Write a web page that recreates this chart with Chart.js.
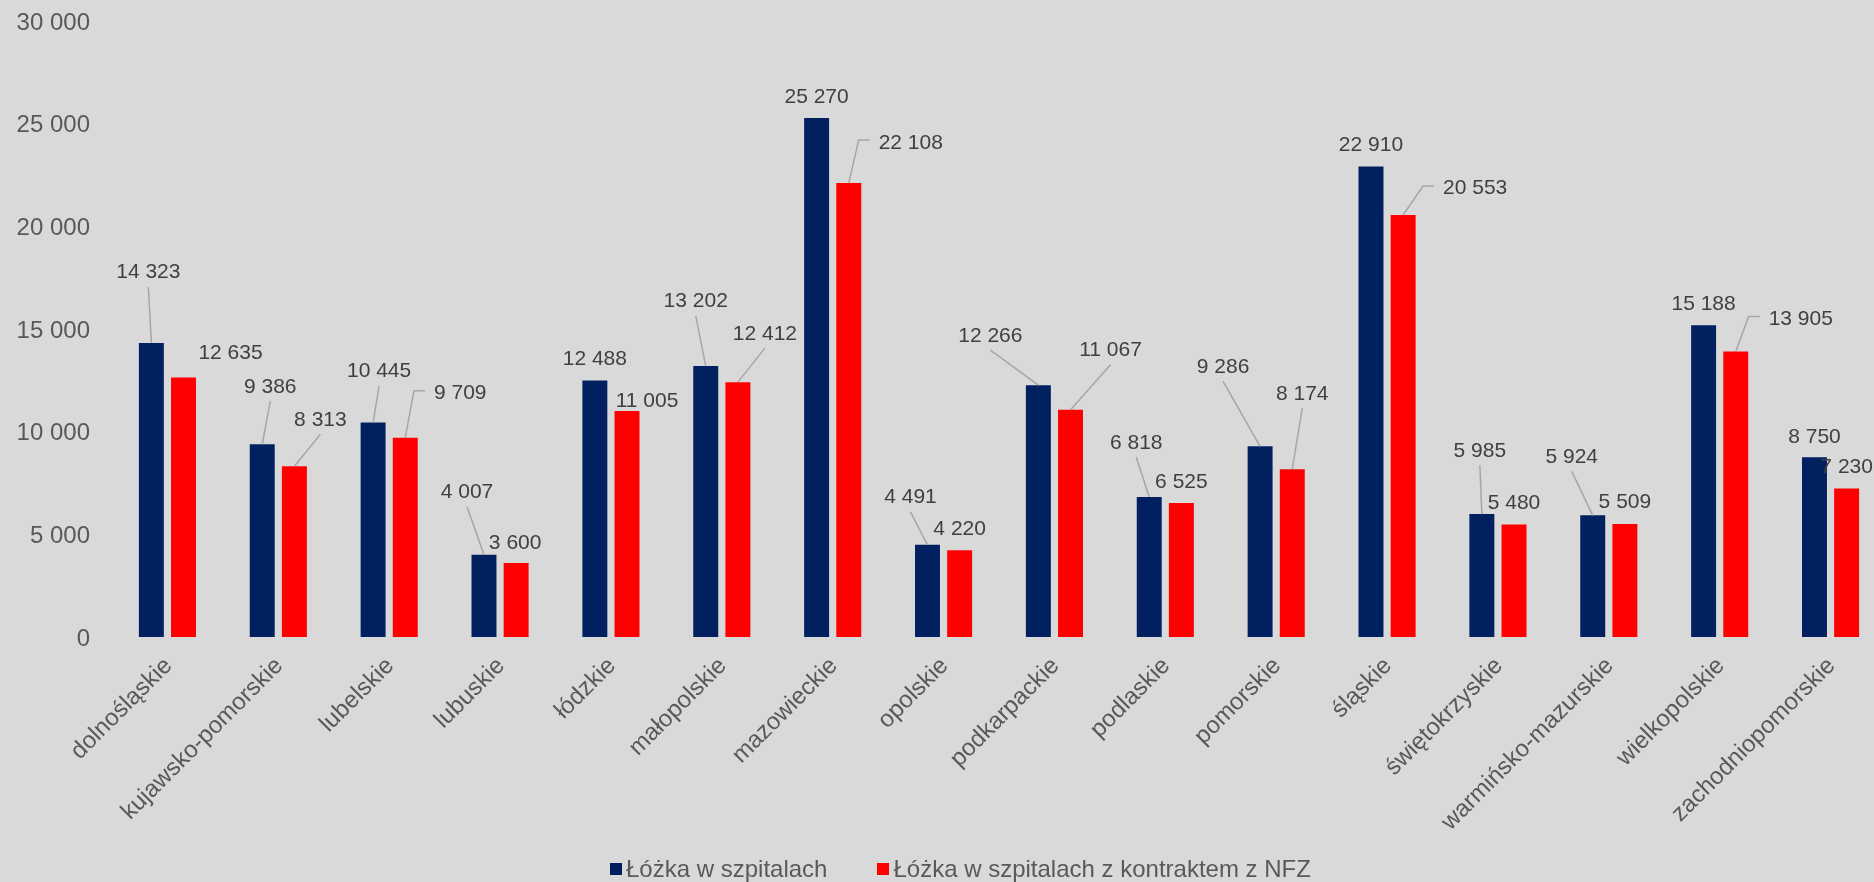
<!DOCTYPE html>
<html lang="pl">
<head>
<meta charset="utf-8">
<title>Łóżka w szpitalach</title>
<script src="https://cdn.jsdelivr.net/npm/chart.js@4.4.0/dist/chart.umd.min.js"></script>
<style>
  html, body { margin: 0; padding: 0; background: #d9d9d9; overflow: hidden; }
  #wrap { position: relative; width: 1890px; height: 882px; }
  #legend {
    position: absolute; left: 610px; top: 855px;
    display: flex; align-items: center; white-space: nowrap;
    font: 24px "Liberation Sans", Arial, sans-serif; color: #595959;
  }
  #legend .item { display: flex; align-items: center; margin-right: 50px; }
  #legend .box { width: 12px; height: 12px; margin-right: 4px; }
</style>
</head>
<body>
<div id="wrap">
  <canvas id="bedsChart"></canvas>
  <div id="legend"></div>
</div>
<script>
// województwa
const categories = ['dolnośląskie', 'kujawsko-pomorskie', 'lubelskie', 'lubuskie', 'łódzkie',
  'małopolskie', 'mazowieckie', 'opolskie', 'podkarpackie', 'podlaskie', 'pomorskie',
  'śląskie', 'świętokrzyskie', 'warmińsko-mazurskie', 'wielkopolskie', 'zachodniopomorskie'];

const seriesNames = ['Łóżka w szpitalach', 'Łóżka w szpitalach z kontraktem z NFZ'];

const bedsAll = [14323, 9386, 10445, 4007, 12488, 13202, 25270, 4491, 12266, 6818, 9286, 22910, 5985, 5924, 15188, 8750];
const bedsNfz = [12635, 8313, 9709, 3600, 11005, 12412, 22108, 4220, 11067, 6525, 8174, 20553, 5480, 5509, 13905, 7230];

const yTicks = [0, 5000, 10000, 15000, 20000, 25000, 30000];

// where each value label sits relative to the top of its bar: [dx, dy, leader]
const allLabelPos = [
  [-3, -72, 'line'], [8, -59, 'line'], [6, -53, 'line'], [-17, -64, 'line'],
  [0, -23, ''], [-10, -66, 'line'], [0, -23, ''], [-17, -49, 'line'],
  [-48, -51, 'line'], [-13, -56, 'line'], [-37, -81, 'line'], [0, -23, ''],
  [-2, -65, 'line'], [-21, -60, 'line'], [0, -23, ''], [0, -22, '']
];
const nfzLabelPos = [
  [47, -26, ''], [26, -48, 'line'], [55, -46, 'elbow'], [-1, -22, ''],
  [20, -12, ''], [27, -50, 'line'], [62, -42, 'elbow'], [0, -23, ''],
  [40, -61, 'line'], [0, -23, ''], [10, -77, 'line'], [72, -28, 'elbow'],
  [0, -23, ''], [0, -23, ''], [65, -34, 'elbow'], [0, -23, '']
];

const navy = '#002060';
const red = '#ff0000';
const fontName = '"Liberation Sans", Arial, sans-serif';

function spaced(v) {
  return String(v).replace(/\B(?=(\d{3})+(?!\d))/g, ' ');
}

const barLabels = {
  id: 'barLabels',
  afterDatasetsDraw(chart) {
    const ctx = chart.ctx;
    const positions = [allLabelPos, nfzLabelPos];
    ctx.save();
    ctx.font = '21px ' + fontName;
    ctx.textAlign = 'center';
    ctx.textBaseline = 'alphabetic';
    chart.data.datasets.forEach((ds, di) => {
      chart.getDatasetMeta(di).data.forEach((bar, i) => {
        const p = positions[di][i];
        const cx = bar.x + p[0];
        const cy = bar.y + p[1];
        const text = spaced(ds.data[i]);
        ctx.strokeStyle = '#a6a6a6';
        ctx.lineWidth = 1.5;
        if (p[2] === 'line') {
          ctx.beginPath();
          ctx.moveTo(cx, cy + 16);
          ctx.lineTo(bar.x, bar.y);
          ctx.stroke();
        } else if (p[2] === 'elbow') {
          const left = cx - ctx.measureText(text).width / 2;
          ctx.beginPath();
          ctx.moveTo(bar.x, bar.y);
          ctx.lineTo(left - 20, cy - 1);
          ctx.lineTo(left - 9, cy - 1);
          ctx.stroke();
        }
        ctx.fillStyle = '#404040';
        ctx.fillText(text, cx, cy + 7.5);
      });
    });
    ctx.restore();
  }
};

let ctx = document.getElementById('bedsChart').getContext('2d');
let chart = new Chart(ctx, {
  type: 'bar',
  data: {
    labels: categories,
    datasets: [{
      label: seriesNames[0],
      backgroundColor: navy,
      data: bedsAll,
      categoryPercentage: 0.58,
      barPercentage: 0.776
    }, {
      label: seriesNames[1],
      backgroundColor: red,
      data: bedsNfz,
      categoryPercentage: 0.58,
      barPercentage: 0.776
    }]
  },
  options: {
    responsive: true,
    maintainAspectRatio: false,
    animation: false,
    layout: { autoPadding: false, padding: { top: 21, right: 4, left: 0, bottom: 0 } },
    plugins: {
      legend: { display: false },
      tooltip: { enabled: false }
    },
    scales: {
      x: {
        grid: { display: false, drawTicks: false },
        border: { display: false },
        ticks: {
          autoSkip: false,
          minRotation: 45,
          maxRotation: 45,
          padding: 15,
          labelOffset: 1,
          color: '#595959',
          font: { family: fontName, size: 24 }
        },
        afterFit: s => { s.height = 245; s.paddingLeft = 0; s.paddingRight = 0; }
      },
      y: {
        min: 0,
        max: 30000,
        grid: { display: false, drawTicks: false },
        border: { display: false },
        ticks: {
          padding: 22,
          labelOffset: 2,
          color: '#595959',
          font: { family: fontName, size: 24 },
          callback: v => spaced(v)
        },
        afterBuildTicks: s => { s.ticks = yTicks.map(v => ({ value: v })); },
        afterFit: s => { s.width = 112; s.paddingTop = 0; s.paddingBottom = 0; }
      }
    }
  },
  plugins: [barLabels]
});

// legend under the chart
let legend = document.getElementById('legend');
chart.data.datasets.forEach(ds => {
  let item = document.createElement('div');
  item.className = 'item';
  let box = document.createElement('span');
  box.className = 'box';
  box.style.background = ds.backgroundColor;
  let txt = document.createElement('span');
  txt.textContent = ds.label;
  item.appendChild(box);
  item.appendChild(txt);
  legend.appendChild(item);
});
</script>
</body>
</html>
